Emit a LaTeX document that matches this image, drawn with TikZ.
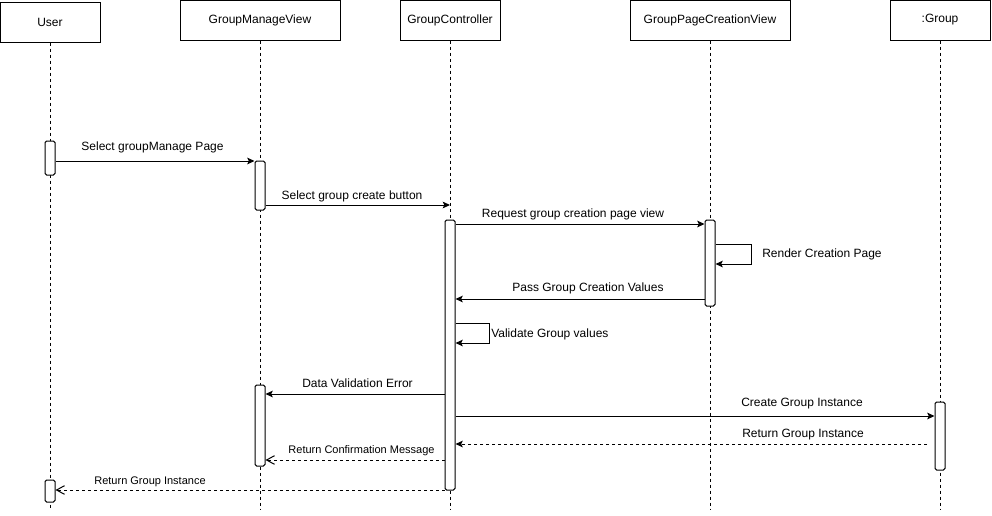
\documentclass[tikz,border=0pt]{standalone}
\usepackage{fontspec}
\setmainfont{Liberation Sans}
\usetikzlibrary{arrows.meta,fit,calc}
\begin{document}
\begin{tikzpicture}[x=0.75pt,y=-0.75pt,
  header/.style={draw,line width=0.75pt,minimum height=30pt,inner sep=0pt,font=\fontsize{9}{11}\selectfont},
  lifeline/.style={line width=0.75pt,dash pattern=on 2.25pt off 2.25pt},
  act/.style={draw,fill=white,line width=0.75pt,rounded corners=1.2pt,inner sep=0pt},
  msg/.style={line width=0.75pt,-{Stealth[length=5.5pt,width=5pt,inset=1.2pt]}},
  ret/.style={line width=0.75pt,dash pattern=on 2.25pt off 2.25pt,-{Stealth[length=5.5pt,width=5pt,inset=1.2pt]}},
  reto/.style={line width=0.75pt,dash pattern=on 2.25pt off 2.25pt,-{Straight Barb[length=6pt,width=6.5pt]}},
  lbl/.style={anchor=base,inner sep=0pt,font=\fontsize{9}{11}\selectfont},
  lbls/.style={anchor=base,inner sep=0pt,font=\fontsize{8.25}{10}\selectfont},
]
\useasboundingbox (0,0) rectangle (992,515);

% headers
\node[header,minimum width=75pt] (user) at (50,22) {User};
\node[header,minimum width=120pt] (gmv) at (260,20) {GroupManageView};
\node[header,minimum width=75pt] (gc) at (450,20) {GroupController};
\node[header,minimum width=120pt] (gpcv) at (710,20) {GroupPageCreationView};
\node[header,minimum width=75pt] (grp) at (940,20) {:Group};

% lifeline ends
\coordinate (uend) at (50,510);
\coordinate (gmvend) at (260,510);
\coordinate (gcend) at (450,510);
\coordinate (gpcvend) at (710,510);
\coordinate (grpend) at (940,510);

\draw[lifeline] (user.south) -- (uend);
\draw[lifeline] (gmv.south) -- (gmvend);
\draw[lifeline] (gc.south) -- (gcend);
\draw[lifeline] (gpcv.south) -- (gpcvend);
\draw[lifeline] (grp.south) -- (grpend);

% activations
\node[act,fit={(45,141) (55,175)}] (ua1) {};
\node[act,fit={(255,161) (265,210)}] (ga1) {};
\node[act,fit={(445,220) (455,490)}] (ca) {};
\node[act,fit={(705,220) (715,306)}] (pa) {};
\node[act,fit={(255,385) (265,466)}] (ga2) {};
\node[act,fit={(935,402) (945,470)}] (ra) {};
\node[act,fit={(45,480) (55,502)}] (ua2) {};

% messages
\draw[msg] (ua1.east |- 0,161) -- (ga1.west |- 0,161);
\node[lbl] (l1) at (152.5,150.5) {Select groupManage Page};

\draw[msg] (ga1.east |- 0,205) -- (gc.south |- 0,205);
\node[lbl] (l2) at (352,199) {Select group create button};

\draw[msg] (ca.east |- 0,224) -- (pa.west |- 0,224);
\node[lbl] (l3) at (573,217) {Request group creation page view};

\draw[msg] (pa.east |- 0,244) -- ++(36,0) |- (pa.east |- 0,264);
\node[lbl,anchor=base west] (l4) at (762,257.5) {Render Creation Page};

\draw[msg] (pa.west |- 0,299) -- (ca.east |- 0,299);
\node[lbl] (l5) at (588,291) {Pass Group Creation Values};

\draw[msg] (ca.east |- 0,323) -- ++(34,0) |- (ca.east |- 0,343);
\node[lbl,anchor=base west] (l6) at (491,337) {Validate Group values};

\draw[msg] (ca.west |- 0,394) -- (ga2.east |- 0,394);
\node[lbl] (l7) at (357.5,387) {Data Validation Error};

\draw[msg] (ca.east |- 0,416) -- (ra.west |- 0,416);
\node[lbl] (l8) at (802,406) {Create Group Instance};

\coordinate (r9s) at (927,444);
\draw[ret] (r9s) -- (ca.east |- r9s);
\node[lbl] (l9) at (803,437) {Return Group Instance};

\draw[reto] (ca.west |- 0,460) -- (ga2.east |- 0,460);
\node[lbls] (l10) at (361.5,453) {Return Confirmation Message};

\draw[reto] (ca.west |- 0,490) -- (ua2.east |- 0,490);
\node[lbls] (l11) at (150,484) {Return Group Instance};
\end{tikzpicture}
\end{document}
